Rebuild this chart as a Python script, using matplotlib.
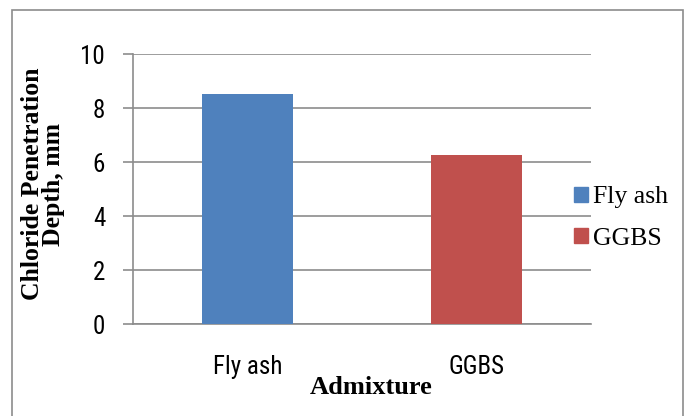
import matplotlib.pyplot as plt
from matplotlib import font_manager
from matplotlib.patches import Rectangle

categories = ["Fly ash", "GGBS"]
depths = [8.52, 6.26]
colors = ["#4F81BD", "#C0504D"]
yticks = [0, 2, 4, 6, 8, 10]

names = {f.name for f in font_manager.fontManager.ttflist}
sans = "Liberation Sans"
for cand in ["Liberation Sans Narrow", "Roboto Condensed", "Open Sans Condensed", "Arial Narrow"]:
    if cand in names:
        sans = cand
        break
tick_size = 18 if sans != "Liberation Sans" else 16.5
serif = "Liberation Serif"

fig = plt.figure(figsize=(6.85, 4.16), dpi=100, facecolor="white")
ax = fig.add_axes([133 / 685, 92 / 416, 458 / 685, 270 / 416])

x = range(len(categories))
ax.bar(x, depths, width=0.4, color=colors, zorder=3)

ax.set_xlim(-0.5, 1.5)
ax.set_ylim(0, 10)
ax.set_yticks(yticks)
ax.set_xticks(list(x))
ax.set_xticklabels(categories, fontfamily=sans, fontsize=tick_size)
ax.set_yticklabels([str(t) for t in yticks], fontfamily=sans, fontsize=tick_size)

ax.yaxis.grid(True, color="#8C8C8C", linewidth=1.2, zorder=0)
for s in ["top", "right"]:
    ax.spines[s].set_visible(False)
for s in ["left", "bottom"]:
    ax.spines[s].set_color("#8C8C8C")
    ax.spines[s].set_linewidth(1.2)
ax.tick_params(axis="y", length=7, width=1.2, color="#8C8C8C", pad=13)
ax.tick_params(axis="x", length=0, pad=22)

fig.text(43 / 685, 1 - 184 / 416, "Chloride Penetration\nDepth, mm", rotation=90,
         ha="center", va="center", fontfamily=serif, fontweight="bold",
         fontsize=18.5, linespacing=0.85)
fig.text(371 / 685, 1 - 388 / 416, "Admixture", ha="center", va="center",
         fontfamily=serif, fontweight="bold", fontsize=19)

handles = [Rectangle((0, 0), 1, 1, color=c) for c in colors]
fig.legend(handles, categories, loc="center left", bbox_to_anchor=(551 / 685, 1 - 218 / 416),
           frameon=False, prop={"family": serif, "size": 18.5},
           handlelength=0.55, handleheight=0.55, handletextpad=0.2, labelspacing=0.75)

fig.add_artist(Rectangle((12 / 685, -0.01), 671 / 685, 1 - 10 / 416 + 0.01,
                         transform=fig.transFigure, fill=False,
                         edgecolor="#8C8C8C", linewidth=1.2))

fig.savefig("out.png", dpi=100, facecolor="white")
